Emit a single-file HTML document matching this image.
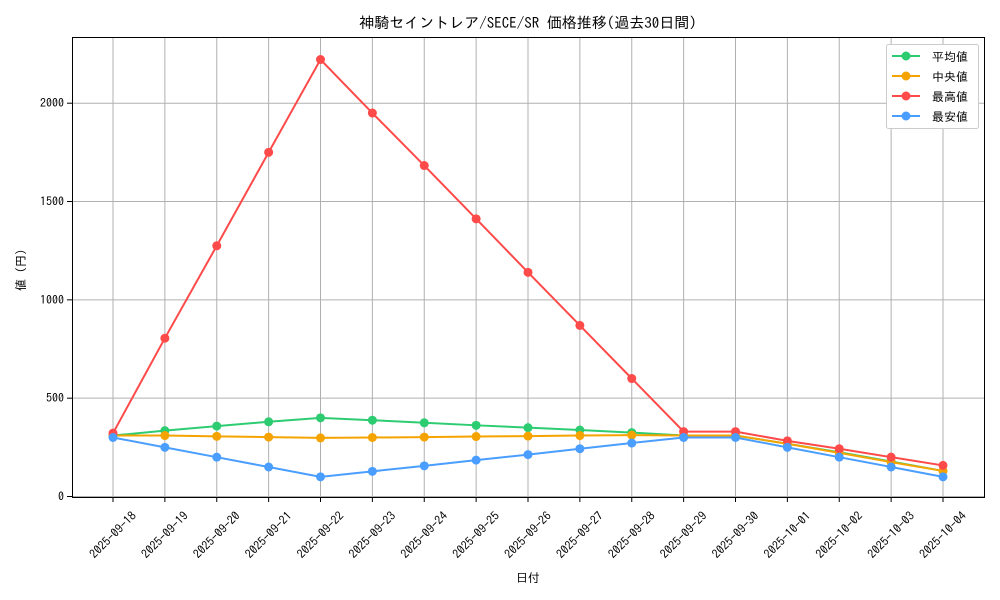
<!DOCTYPE html>
<html><head><meta charset="utf-8"><style>body{margin:0;background:#fff}svg{display:block}text{font-family:"IPAGothic","Noto Sans CJK JP",monospace;fill:#000}</style></head><body>
<svg width="1000" height="600" xmlns="http://www.w3.org/2000/svg">
<rect width="1000" height="600" fill="#fff"/>
<text x="528" y="28" font-size="15" text-anchor="middle">神騎セイントレア/SECE/SR 価格推移(過去30日間)</text>
<g id="grid" stroke="#b0b0b0" stroke-width="1"></g>
<rect x="72.5" y="37.5" width="912" height="460" fill="none" stroke="#000" stroke-width="1"/>
<g id="ticks"></g>
<g id="series"></g>
<text x="528" y="582" font-size="12" text-anchor="middle">日付</text>
<text transform="translate(25,270) rotate(-90)" font-size="12" text-anchor="middle">値 (円)</text>
<g>
<rect x="886.5" y="44.5" width="92" height="84" fill="#fff" stroke="#ccc" rx="2"/>
<line x1="892" y1="56" x2="920" y2="56" stroke="#2ecc71" stroke-width="2"/><circle cx="906" cy="56" r="4.5" fill="#2ecc71"/><text x="932" y="61" font-size="12">平均値</text>
<line x1="892" y1="76" x2="920" y2="76" stroke="#f5a300" stroke-width="2"/><circle cx="906" cy="76" r="4.5" fill="#f5a300"/><text x="932" y="81" font-size="12">中央値</text>
<line x1="892" y1="96" x2="920" y2="96" stroke="#ff4a4a" stroke-width="2"/><circle cx="906" cy="96" r="4.5" fill="#ff4a4a"/><text x="932" y="101" font-size="12">最高値</text>
<line x1="892" y1="116" x2="920" y2="116" stroke="#4a9eff" stroke-width="2"/><circle cx="906" cy="116" r="4.5" fill="#4a9eff"/><text x="932" y="121" font-size="12">最安値</text>
</g>
<script>
const ns="http://www.w3.org/2000/svg";
function el(p,t,a,txt){const e=document.createElementNS(ns,t);for(const k in a)e.setAttribute(k,a[k]);if(txt!==undefined)e.textContent=txt;document.getElementById(p).appendChild(e);return e;}
const X=i=>113+i*51.875, Y=v=>496.5-v*0.19665;
const dates=["2025-09-18","2025-09-19","2025-09-20","2025-09-21","2025-09-22","2025-09-23","2025-09-24","2025-09-25","2025-09-26","2025-09-27","2025-09-28","2025-09-29","2025-09-30","2025-10-01","2025-10-02","2025-10-03","2025-10-04"];
dates.forEach((d,i)=>{const x=X(i);el("grid","line",{x1:x,y1:37,x2:x,y2:497});el("ticks","line",{x1:x,y1:497,x2:x,y2:502,stroke:"#000"});
el("ticks","text",{transform:`translate(${x},535) rotate(-45)`,"font-size":12,"text-anchor":"middle","dominant-baseline":"central"},d);});
[0,500,1000,1500,2000].forEach(v=>{const y=Y(v);el("grid","line",{x1:72,y1:y,x2:984,y2:y});el("ticks","line",{x1:67,y1:y,x2:72,y2:y,stroke:"#000"});el("ticks","text",{x:64,y:y+4,"font-size":12,"text-anchor":"end"},v);});
const S=[
["#2ecc71",[310,335,358,380,400,388,375,362,350,338,325,310,310,268,225,178,130]],
["#f5a300",[310,310,306,302,298,300,302,305,307,310,312,310,310,268,222,175,130]],
["#ff4a4a",[322,805,1275,1750,2222,1950,1683,1412,1140,870,600,330,330,283,243,200,158]],
["#4a9eff",[300,250,200,150,100,128,156,185,213,243,272,300,300,250,200,150,100]]];
S.forEach(([c,d])=>{el("series","polyline",{points:d.map((v,i)=>X(i)+","+Y(v)).join(" "),fill:"none",stroke:c,"stroke-width":2});d.forEach((v,i)=>el("series","circle",{cx:X(i),cy:Y(v),r:4.5,fill:c}));});
</script>
</svg>
</body></html>
